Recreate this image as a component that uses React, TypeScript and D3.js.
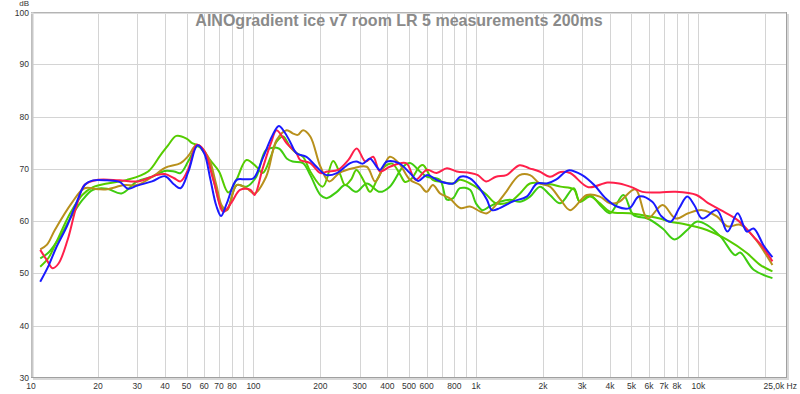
import React from "react";
import * as d3 from "d3";

const TITLE = "AINOgradient ice v7 room LR 5 measurements 200ms";

const blue: [number, number][] = [[11,48.4],[12,51.5],[13,55],[14.5,59],[16,63.5],[17.5,67],[19,67.8],[22,67.8],[25,67.5],[27.3,66.2],[30,66.8],[35,67.6],[40,68.6],[44,67],[47,66.3],[51,69.5],[56,74.5],[60,73],[64,68],[68,63],[71.5,61],[76,63.5],[84,67.9],[92,68],[100,68.2],[110,72],[122,76.5],[130,78.2],[138,77],[146,75.2],[156,73],[173,72.3],[192,70.4],[213,68.8],[237,69.2],[260,70.5],[272,71.1],[290,71.4],[310,71],[334,72],[350,71],[370,69.8],[398,71.4],[450,71.1],[505,69.2],[550,67.7],[600,68.8],[690,67.6],[790,67.2],[850,68.5],[940,68.2],[1050,66],[1120,64.1],[1180,62.1],[1280,62.5],[1470,63.8],[1690,64.7],[1880,67.2],[2080,67.2],[2300,68],[2600,69.7],[3000,68.8],[3400,66.9],[3800,64.5],[4300,62.8],[4900,62.5],[5400,64.7],[6200,63.7],[6800,61],[7500,59.9],[8200,62.5],[8900,64.7],[9600,63],[10400,60.5],[12100,62.1],[13500,58],[15000,61.5],[16500,58],[17700,58.6],[19600,55.4],[21500,53.1]];

const red: [number, number][] = [[11,54.5],[11.8,52.5],[12.5,51],[13.3,51.9],[14.6,56.4],[16,62.8],[17.4,66.9],[20,67.9],[25,67.8],[30.3,67.6],[36.6,68.8],[40,69],[44,68.2],[47,67.6],[51,70],[55.6,74.6],[60,73.5],[66,67.9],[73.3,61.8],[80,63.7],[87,66],[97,66],[101,65],[110,70.1],[120,75],[127,77.4],[141,74.9],[156,73],[162,71.7],[180,71.1],[200,69.2],[215,69.5],[240,69.8],[267,71.7],[291,73.9],[319,71.4],[345,72.3],[370,69.5],[410,70.4],[485,71.1],[535,67.9],[600,69.8],[665,69.2],[740,70.1],[820,69.5],[940,69.2],[1020,68.8],[1110,67.6],[1230,68.5],[1370,68.8],[1570,70.7],[1740,70.1],[1930,69.5],[2150,68.5],[2400,69.4],[2650,69.2],[3200,66.5],[3900,67.4],[4400,67.2],[5000,66.5],[5600,65.6],[6700,65.5],[7900,65.6],[9800,65],[11000,63.5],[12600,62.1],[15000,60.2],[17700,57],[19500,55],[21500,52.3]];

const olive: [number, number][] = [[11,54.6],[11.8,55.5],[12.8,58.3],[15.2,63.4],[17.4,66.3],[20,66.1],[22,66.1],[26.3,66.9],[30,66.9],[36,68.8],[40,70.2],[47,71.1],[51,72.5],[55.6,74.6],[62.5,72.3],[68,67],[72,63],[76,62.1],[84,66.9],[93,66.3],[101,65.3],[114,68.5],[127,75.5],[141,77.4],[150,76.8],[158,76.5],[167,77.4],[180,76.2],[200,70.4],[219,67.6],[243,69.2],[280,70.1],[323,70.4],[352,67.6],[382,70.1],[410,72.3],[450,71.1],[505,67.9],[560,66.9],[600,65.6],[640,66.9],[690,65.3],[760,64.4],[850,62.5],[940,62.8],[1050,61.8],[1120,61.5],[1230,63.1],[1350,65.3],[1570,68.8],[1750,68.8],[1930,67.2],[2150,66.6],[2400,64.1],[2650,62.1],[3150,65],[3600,64.7],[4000,63.4],[4400,63.7],[5200,66.1],[5900,60.5],[6900,63.1],[7900,60.5],[9000,61.5],[10400,62.1],[12100,60.9],[13500,59],[15400,59.3],[17700,57],[21500,51.6]];

const green1: [number, number][] = [[11,51.3],[12,53],[13,56],[15,61.5],[17,65],[19,66.5],[22,67.2],[27,67.9],[33.6,69.5],[38,72.5],[41.3,74.5],[45,76.3],[50,75.8],[53,74.9],[57,74.4],[63.8,71.7],[70,69.5],[77,65.5],[84,68],[93,71.7],[103,70.4],[110,69.2],[120,72.5],[127,75.2],[136,76.2],[146,74.2],[156,73],[167,72.3],[180,69.5],[205,66.6],[228,71.5],[245,69],[258,66.9],[275,68],[290,69.8],[315,67.5],[334,65.6],[360,68],[390,70.5],[420,71],[455,69],[480,67.5],[510,68],[560,70.5],[580,70.7],[640,67.9],[700,67.5],[790,67.2],[847,67.9],[940,67.2],[1100,65.3],[1230,63.4],[1420,63.7],[1577,65.3],[1750,67.2],[2000,67.2],[2200,67],[2400,66.6],[2750,66.1],[2930,63.7],[3250,64.7],[3610,63.4],[4000,61.8],[4900,61.5],[6050,60.9],[6700,60.5],[7450,59.9],[8500,59.5],[10900,58.3],[13500,56.4],[16500,53.9],[19000,51.6],[21500,50.4]];

const green2: [number, number][] = [[11,52.9],[12,54],[13.5,57],[15,60.5],[17,64],[19,66],[22,66.2],[25.5,65.3],[30,67.6],[35,68.5],[40,69.6],[44,69.5],[47,69.2],[51,71.5],[56,74.3],[62,72],[67,67],[72,62.5],[76,62.1],[84,66.9],[93,66.6],[103,68.5],[114,73.6],[130,73.9],[141,72],[150,71.4],[167,71.1],[180,68.8],[200,65],[213,64.4],[237,65.6],[258,66.9],[290,65.6],[323,67.2],[370,65.6],[410,66.6],[470,70.4],[505,71.1],[560,69.5],[600,68.5],[688,67.9],[740,64.1],[790,64.4],[847,66.3],[940,66],[1000,63.4],[1070,62.1],[1150,62.8],[1280,63.7],[1420,64.1],[1577,63.7],[1750,64.7],[1940,66.6],[2150,65],[2390,63.4],[2750,66.3],[2930,63.7],[3250,65],[3610,63.1],[4000,61.5],[4600,65],[5100,61.2],[5900,60.5],[6900,58.6],[7800,56.5],[8900,58.3],[9800,59.9],[10900,59.3],[12600,57],[14600,53.5],[15400,54],[17700,50.7],[21500,49.1]];

const seriesList = [
  { name: "green2", color: "#3fcc10", data: green2 },
  { name: "green1", color: "#55cc00", data: green1 },
  { name: "olive", color: "#b8901c", data: olive },
  { name: "red", color: "#ff1f4a", data: red },
  { name: "blue", color: "#1a1aff", data: blue },
];

const xTickLabels: [number, string][] = [[10,"10"],[20,"20"],[30,"30"],[40,"40"],[50,"50"],[60,"60"],[70,"70"],[80,"80"],[100,"100"],[200,"200"],[300,"300"],[400,"400"],[500,"500"],[600,"600"],[800,"800"],[1000,"1k"],[2000,"2k"],[3000,"3k"],[4000,"4k"],[5000,"5k"],[6000,"6k"],[7000,"7k"],[8000,"8k"],[10000,"10k"]];
const xGrid = [20,30,40,50,60,70,80,90,100,200,300,400,500,600,700,800,900,1000,2000,3000,4000,5000,6000,7000,8000,9000,10000,20000];
const yTicks = [30,40,50,60,70,80,90,100];

export default function App() {
  const W = 800, H = 394;
  const L = 31, R = 787, T = 12, B = 378;
  const x = d3.scaleLog().domain([10, 25000]).range([L, R]);
  const y = d3.scaleLinear().domain([30, 100]).range([B, T]);
  const line = d3.line<[number, number]>()
    .x(d => x(d[0]))
    .y(d => y(d[1]))
    .curve(d3.curveCatmullRom.alpha(0.5));
  const font = "'Liberation Sans', Arial, sans-serif";
  return (
    <svg width={W} height={H} style={{ position: "absolute", left: 0, top: 0, background: "#fff" }}>
      <rect x={0} y={0} width={W} height={H} fill="#fff" />
      <rect x={L + 2} y={T + 2} width={R - L} height={B - T} fill="#d8d8d8" />
      <rect x={L} y={T} width={R - L} height={B - T} fill="#fff" />
      {xGrid.map(f => (
        <line key={"gx" + f} x1={Math.round(x(f)) + 0.5} x2={Math.round(x(f)) + 0.5} y1={T} y2={B} stroke="#d4d4d4" strokeWidth={1} />
      ))}
      {yTicks.slice(1, -1).map(v => (
        <line key={"gy" + v} x1={L} x2={R} y1={Math.round(y(v)) + 0.5} y2={Math.round(y(v)) + 0.5} stroke="#d4d4d4" strokeWidth={1} />
      ))}
      <text x={399} y={26} textAnchor="middle" fontFamily={font} fontWeight="bold" fontSize={16} fill="#8a8a8a">{TITLE}</text>
      <defs>
        <clipPath id="clip"><rect x={L} y={T} width={R - L} height={B - T} /></clipPath>
      </defs>
      <g clipPath="url(#clip)">
        {seriesList.map(s => (
          <path key={s.name} d={line(s.data) || ""} fill="none" stroke={s.color} strokeWidth={2} strokeLinejoin="round" />
        ))}
      </g>
      <rect x={L + 0.5} y={T + 0.5} width={R - L - 1} height={B - T - 1} fill="none" stroke="#b4b4b4" strokeWidth={1} />
      <line x1={L + 1.5} x2={L + 1.5} y1={T} y2={B} stroke="#c8c8c8" strokeWidth={2} />
      <line x1={L} x2={R} y1={T + 1.5} y2={T + 1.5} stroke="#dcdcdc" strokeWidth={1} />
      <line x1={R - 0.5} x2={R - 0.5} y1={T} y2={B} stroke="#a0a0a0" strokeWidth={1} />
      <line x1={L} x2={R} y1={B - 0.5} y2={B - 0.5} stroke="#a0a0a0" strokeWidth={1} />
      {yTicks.map(v => (
        <text key={"yt" + v} x={29} y={v === 100 ? y(v) + 4 : y(v) + 3} textAnchor="end" fontFamily={font} fontSize={8.5} fill="#333">{v}</text>
      ))}
      <text x={29} y={6} textAnchor="end" fontFamily={font} fontSize={8} fill="#333">dB</text>
      {xTickLabels.map(([f, s]) => (
        <text key={"xt" + f} x={x(f)} y={389} textAnchor="middle" fontFamily={font} fontSize={8.5} fill="#333">{s}</text>
      ))}
      <text x={797} y={389} textAnchor="end" fontFamily={font} fontSize={8.5} fill="#333">25,0k Hz</text>
    </svg>
  );
}
